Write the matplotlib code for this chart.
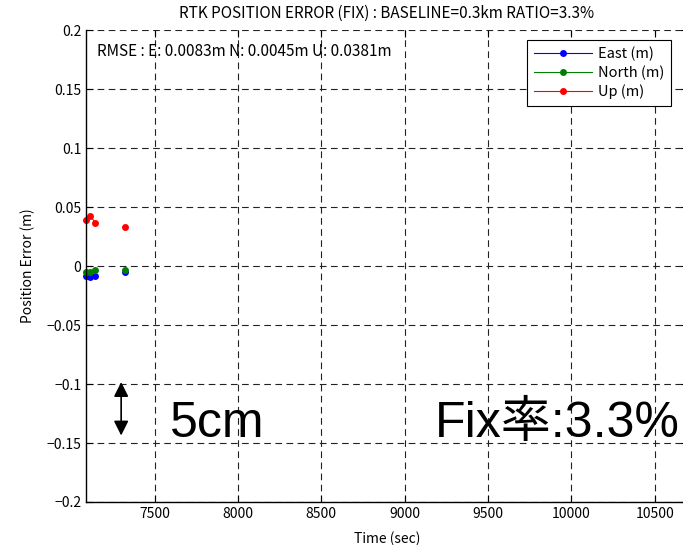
import matplotlib
matplotlib.use("Agg")
import matplotlib.pyplot as plt
import numpy as np

plt.rcParams['font.family'] = ['Noto Sans CJK JP', 'DejaVu Sans']
plt.rcParams['axes.unicode_minus'] = True

# fix epochs (nan = gap in the line)
time_sec = [7088, 7113, 7145, 7230, 7320]
east = [-0.0083, -0.0094, -0.0083, np.nan, -0.0050]
north = [-0.0047, -0.0047, -0.0036, np.nan, -0.0036]
up = [0.0389, 0.0425, 0.0367, np.nan, 0.0331]

series_names = ['East (m)', 'North (m)', 'Up (m)']
series_colors = ['#0000ff', '#008000', '#ff0000']

x_ticks = [7500, 8000, 8500, 9000, 9500, 10000, 10500]
y_ticks = [-0.2, -0.15, -0.1, -0.05, 0, 0.05, 0.1, 0.15, 0.2]
y_tick_labels = ['-0.2', '-0.15', '-0.1', '-0.05', '0', '0.05', '0.1', '0.15', '0.2']

title = 'RTK POSITION ERROR (FIX) : BASELINE=0.3km RATIO=3.3%'
rmse_text = 'RMSE : E: 0.0083m N: 0.0045m U: 0.0381m'

fig = plt.figure(figsize=(6.83, 5.45), dpi=100)
ax = fig.add_axes([0.1259, 0.0789, 0.8814, 0.866])

for vals, name, col in zip([east, north, up], series_names, series_colors):
    ax.plot(time_sec, vals, '-', color=col, lw=0.8, marker='o', markersize=5,
            markeredgewidth=0, label=name, clip_on=False)

ax.set_xlim(7088, 10700)
ax.set_ylim(-0.2, 0.2)
ax.set_xticks(x_ticks)
ax.set_yticks(y_ticks)
ax.set_yticklabels([l.replace('-', '\u2212') for l in y_tick_labels])
ax.tick_params(direction='in', length=5, width=0.8, labelsize=10, top=True, right=True)
ax.grid(True, color='#222222', linestyle=(0, (6, 4)), linewidth=0.8)
ax.spines['top'].set_visible(False)
ax.spines['left'].set_linewidth(1.0)
ax.spines['bottom'].set_linewidth(1.0)

ax.set_title(title, fontsize=11, pad=9)
ax.set_xlabel('Time (sec)', fontsize=10, labelpad=8)
ax.set_ylabel('Position Error (m)', fontsize=10, labelpad=8)

ax.text(0.018, 0.955, rmse_text, transform=ax.transAxes, fontsize=11, va='center', ha='left')

leg = ax.legend(loc='upper right', bbox_to_anchor=(0.982, 0.9266), bbox_transform=fig.transFigure,
                fontsize=10.5, handlelength=4, handletextpad=0.4, labelspacing=0.3,
                fancybox=False, framealpha=1, edgecolor='k', borderaxespad=0, borderpad=0.45)
leg.get_frame().set_linewidth(0.8)

# 5cm scale arrow
ax.annotate('', xy=(7299, -0.146), xytext=(7299, -0.096),
            arrowprops=dict(arrowstyle='<|-|>', color='k', lw=1.2, mutation_scale=22))

big_font = ['Liberation Sans', 'Noto Sans CJK JP']
fig.text(170 / 683, (545 - 437) / 545, '5cm', fontsize=36, family=big_font, ha='left', va='baseline')
fig.text(680 / 683, (545 - 437) / 545, 'Fix率:3.3%', fontsize=36, family=big_font, ha='right', va='baseline')

fig.savefig('out.png', dpi=100)
